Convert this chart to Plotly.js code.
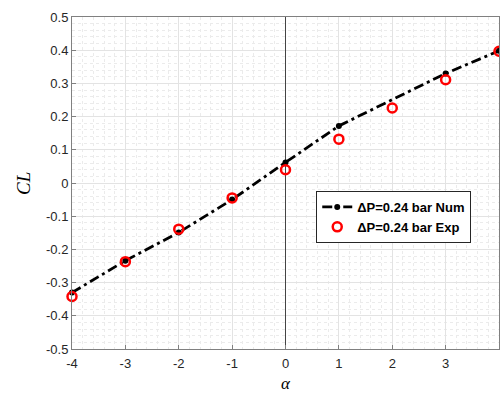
<!DOCTYPE html>
<html><head><meta charset="utf-8">
<script src="https://cdn.plot.ly/plotly-3.0.1.min.js"></script>
<style>body{margin:0;background:#fff}#c{width:500px;height:394px}</style>
</head><body><div id="c"></div>
<script>
const alphaNum = [-4, -3, -2, -1, 0, 1, 3, 4];
const clNum = [-0.330, -0.234, -0.149, -0.050, 0.062, 0.172, 0.330, 0.398];
const alphaExp = [-4, -3, -2, -1, 0, 1, 2, 3, 4];
const clExp = [-0.342, -0.237, -0.139, -0.045, 0.040, 0.132, 0.226, 0.311, 0.397];
const nameNum = 'ΔP=0.24 bar Num';
const nameExp = 'ΔP=0.24 bar Exp';
const xTitle = 'α';
const yTitle = 'CL';
const xTickVals = [-4, -3, -2, -1, 0, 1, 2, 3, 4];
const xTickText = ['-4', '-3', '-2', '-1', '0', '1', '2', '3', '4'];
const yTickVals = [-0.5, -0.4, -0.3, -0.2, -0.1, 0, 0.1, 0.2, 0.3, 0.4, 0.5];
const yTickText = ['-0.5', '-0.4', '-0.3', '-0.2', '-0.1', '0', '0.1', '0.2', '0.3', '0.4', '0.5'];

const traces = [
  {x: alphaNum, y: clNum, mode: 'lines+markers', name: nameNum, cliponaxis: false,
   line: {color: '#000', width: 2.8, dash: '10px,4px,3px,4px'},
   marker: {color: '#000', size: 6, symbol: 'circle'}},
  {x: alphaExp, y: clExp, mode: 'markers', name: nameExp, cliponaxis: false,
   marker: {color: '#ff0000', size: 9, symbol: 'circle-open', line: {color: '#ff0000', width: 2.5}}}
];
const axFont = {family: 'Arial, Liberation Sans, sans-serif', size: 13, color: '#262626'};
const titleFont = {family: 'Times New Roman, Liberation Serif, serif', size: 19, style: 'italic', color: '#000'};
const xTitleFont = {family: 'Times New Roman, Liberation Serif, serif', size: 17, style: 'italic', color: '#000'};
const layout = {
  width: 500, height: 394,
  margin: {l: 72, r: 1, t: 17, b: 45},
  paper_bgcolor: '#fff', plot_bgcolor: '#fff',
  showlegend: true,
  legend: {x: 0.572, y: 0.476, xanchor: 'left', yanchor: 'top', bgcolor: '#fff',
    bordercolor: '#262626', borderwidth: 1, itemwidth: 30,
    font: {family: 'Arial, Liberation Sans, sans-serif', size: 13, color: '#000', weight: 'bold'},
    tracegroupgap: 0},
  xaxis: {range: [-4, 4], tickmode: 'array', tickvals: xTickVals, ticktext: xTickText,
    tickfont: axFont, ticks: 'inside', ticklen: 4, tickcolor: '#808080', ticklabelstandoff: 2,
    showline: true, linecolor: '#808080', linewidth: 1, mirror: true,
    showgrid: true, gridcolor: '#e3e3e3', gridwidth: 1, zeroline: true, zerolinecolor: '#444', zerolinewidth: 1,
    minor: {dtick: 0.2, showgrid: true, gridcolor: '#ebebeb', griddash: 'dot', gridwidth: 1}},
  yaxis: {range: [-0.5, 0.5], tickmode: 'array', tickvals: yTickVals, ticktext: yTickText,
    tickfont: axFont, ticks: 'inside', ticklen: 4, tickcolor: '#808080',
    showline: true, linecolor: '#808080', linewidth: 1, mirror: true,
    showgrid: true, gridcolor: '#e3e3e3', gridwidth: 1, zeroline: false,
    minor: {dtick: 0.02, showgrid: true, gridcolor: '#ebebeb', griddash: 'dot', gridwidth: 1}},
  annotations: [
    {text: xTitle, xref: 'paper', yref: 'paper', x: 0.5, y: -0.104, xanchor: 'center', yanchor: 'middle',
     showarrow: false, font: xTitleFont},
    {text: yTitle, xref: 'paper', yref: 'paper', x: -0.115, y: 0.5, xanchor: 'center', yanchor: 'middle',
     textangle: -90, showarrow: false, font: titleFont}
  ]
};
Plotly.newPlot('c', traces, layout, {displayModeBar: false, staticPlot: true});
</script></body></html>
